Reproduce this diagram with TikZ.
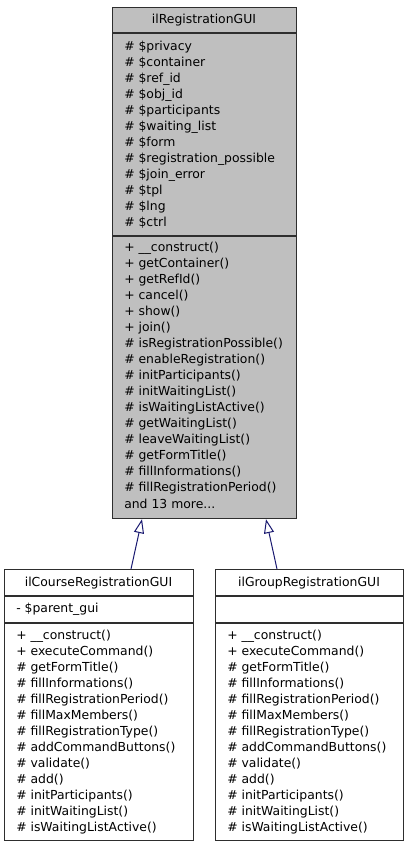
\documentclass[tikz,border=0pt]{standalone}
\usepackage{fontspec}
\setmainfont{DejaVu Sans}
\usetikzlibrary{arrows.meta,calc}
\definecolor{edgeblue}{HTML}{191970}
\definecolor{basegray}{HTML}{BFBFBF}
\definecolor{boxline}{HTML}{2E2E2E}
\begin{document}
\begin{tikzpicture}[x=0.75pt,y=-0.75pt,
  umlbox/.style={draw=boxline,line width=0.9pt,inner sep=0pt,anchor=north west},
  txt/.style={inner sep=0pt,anchor=west,font=\fontsize{9.3pt}{11pt}\selectfont},
  ttl/.style={inner sep=0pt,anchor=center,font=\fontsize{9.3pt}{11pt}\selectfont},
  sep/.style={draw=boxline,line width=0.9pt},
  inherit/.style={draw=edgeblue,line width=0.75pt,-{Triangle[open,length=10.5pt,width=7.5pt,fill=white]}}]
\useasboundingbox (0,0) rectangle (408,848);
% base class
\node[umlbox,fill=basegray,minimum width=138pt,minimum height=383.25pt] (base) at (112,7) {};
\draw[sep] (112,33) -- (296,33);
\draw[sep] (112,236) -- (296,236);
\node[ttl] (basetitle) at (204,20) {ilRegistrationGUI};
\foreach \t [count=\i from 0] in {\#\ \$privacy,\#\ \$container,\#\ \$ref\_id,\#\ \$obj\_id,\#\ \$participants,\#\ \$waiting\_list,\#\ \$form,\#\ \$registration\_possible,\#\ \$join\_error,\#\ \$tpl,\#\ \$lng,\#\ \$ctrl}
  \node[txt] (ba\i) at (124,47+16*\i) {\t};
\foreach \t [count=\i from 0] in {+ \_\_construct(),+ getContainer(),+ getRefId(),+ cancel(),+ show(),+ join(),\# isRegistrationPossible(),\# enableRegistration(),\# initParticipants(),\# initWaitingList(),\# isWaitingListActive(),\# getWaitingList(),\# leaveWaitingList(),\# getFormTitle(),\# fillInformations(),\# fillRegistrationPeriod()}
  \node[txt] (bm\i) at (124,248+16*\i) {\t};
\node[txt] (bmore) at (124,504) {and 13 more...};
% course
\node[umlbox,fill=white,minimum width=141.75pt,minimum height=203.25pt] (course) at (4,569) {};
\draw[sep] (4,596) -- (193,596);
\draw[sep] (4,623) -- (193,623);
\node[ttl] (coursetitle) at (98.5,583) {ilCourseRegistrationGUI};
\node[txt] (ca0) at (16,609) {- \$parent\_gui};
% group
\node[umlbox,fill=white,minimum width=141pt,minimum height=203.25pt] (group) at (215,569) {};
\draw[sep] (215,596) -- (403,596);
\draw[sep] (215,623) -- (403,623);
\node[ttl] (grouptitle) at (309,583) {ilGroupRegistrationGUI};
\foreach \t [count=\i from 0] in {+ \_\_construct(),+ executeCommand(),\# getFormTitle(),\# fillInformations(),\# fillRegistrationPeriod(),\# fillMaxMembers(),\# fillRegistrationType(),\# addCommandButtons(),\# validate(),\# add(),\# initParticipants(),\# initWaitingList(),\# isWaitingListActive()}
  {\node[txt] (cm\i) at (16,636+16*\i) {\t};
   \node[txt] (gm\i) at (227,636+16*\i) {\t};}
% edges
\draw[inherit] ($(course.north west)+(127,0)$) -- ($(base.south west)+(30,0)$);
\draw[inherit] ($(group.north west)+(62,0)$) -- ($(base.south west)+(154,0)$);
\end{tikzpicture}
\end{document}
